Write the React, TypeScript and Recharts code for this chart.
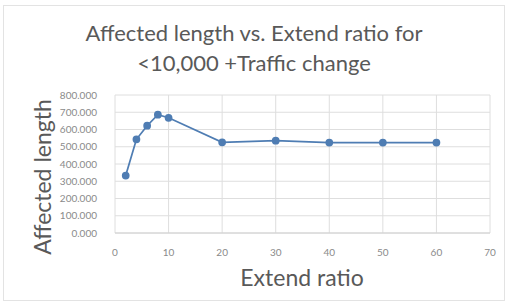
import { LineChart, CartesianGrid, XAxis, YAxis, Line } from "recharts"

const extendRatio = [2, 4, 6, 8, 10, 20, 30, 40, 50, 60]
const affectedLength = [333, 543, 622, 686, 668, 526, 535, 524, 524, 524]
const xTicks = [0, 10, 20, 30, 40, 50, 60, 70]
const yTicks = [0, 100, 200, 300, 400, 500, 600, 700, 800]

const data = extendRatio.map((x, i) => ({ x, y: affectedLength[i] }))

const font = "Lato, 'Open Sans', sans-serif"

const App = () => {
    return (
        <div style={{ position: "absolute", left: 0, top: 0, width: 508, height: 306, background: "#fff", fontFamily: font }}>
            <div style={{ position: "absolute", left: 3, top: 5, width: 500, height: 294, border: "1px solid #e3e3e3" }} />
            <div style={{ position: "absolute", left: 0, top: 18, width: 508, textAlign: "center", fontSize: 22, lineHeight: "30px", color: "#595959" }}>
                Affected length vs. Extend ratio for<br />&lt;10,000 +Traffic change
            </div>
            <div style={{ position: "absolute", left: 42, top: 177, transform: "translate(-50%, -50%) rotate(-90deg)", fontSize: 23, color: "#595959", whiteSpace: "nowrap" }}>
                Affected length
            </div>
            <div style={{ position: "absolute", left: 302, top: 277, transform: "translate(-50%, -50%)", fontSize: 23, color: "#595959", whiteSpace: "nowrap" }}>
                Extend ratio
            </div>
            <LineChart width={508} height={306} data={data} margin={{ top: 95, right: 18, bottom: 43, left: 55 }}>
                <CartesianGrid stroke="#dedede" />
                <XAxis dataKey="x" type="number" domain={[0, 70]} ticks={xTicks} interval={0} stroke="#d0d0d0" tickLine={false}
                    height={30} tickMargin={10} tick={{ fontSize: 10, fill: "#8a8a8a", fontFamily: font }} />
                <YAxis type="number" domain={[0, 800]} ticks={yTicks} interval={0} width={60} axisLine={false} tickLine={false}
                    tickMargin={12} tickFormatter={(v: number) => v.toFixed(3)}
                    tick={{ fontSize: 10, fill: "#8a8a8a", fontFamily: font }} />
                <Line type="linear" dataKey="y" stroke="#4f7db3" strokeWidth={1.75}
                    dot={{ r: 3, fill: "#4f7db3", stroke: "#4f7db3" }} isAnimationActive={false} />
            </LineChart>
        </div>
    )
}

export default App
